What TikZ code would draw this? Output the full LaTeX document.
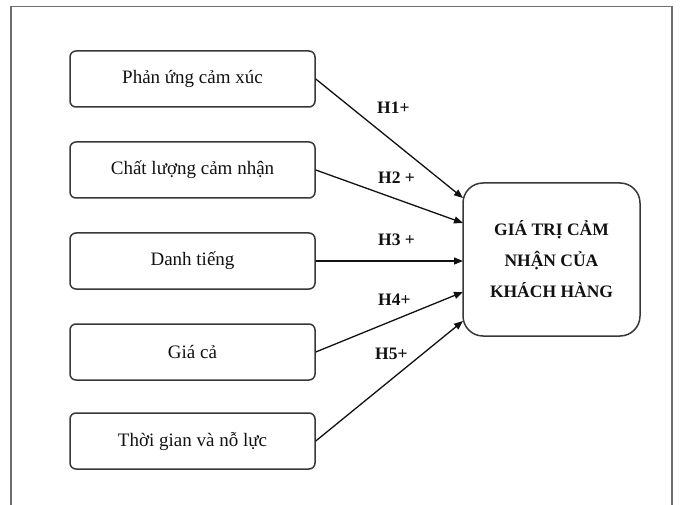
\documentclass[tikz,border=0pt]{standalone}
\usepackage{fontspec}
\setmainfont{Liberation Serif}
\usetikzlibrary{arrows.meta}
\definecolor{boxline}{HTML}{383838}
\definecolor{frameline}{HTML}{6E6E6E}
\definecolor{ink}{HTML}{111111}
\begin{document}
\begin{tikzpicture}[x=1pt,y=-1pt,
  leftbox/.style={draw=boxline,line width=1.5pt,rounded corners=6pt,minimum width=245pt,minimum height=56pt,inner sep=0pt,text=ink,font=\fontsize{19}{22}\selectfont},
  rightbox/.style={draw=boxline,line width=1.5pt,rounded corners=20pt,minimum width=177pt,minimum height=153pt,inner sep=0pt,text=ink,align=center,font=\fontsize{17.5}{31}\selectfont\bfseries},
  hlabel/.style={anchor=base west,inner sep=0pt,text=ink,font=\fontsize{17.5}{20}\selectfont\bfseries},
  conn/.style={draw=ink,line width=1.3pt,-{Triangle[length=9pt,width=7pt]}}]
\useasboundingbox (0,0) rectangle (680,505);
\draw[frameline,line width=1.4pt] (11,505) -- (11,6.5) -- (672,6.5) -- (672,505);
\node[leftbox] (b1) at (192.5,79) {Phản ứng cảm xúc};
\node[leftbox] (b2) at (192.5,170) {Chất lượng cảm nhận};
\node[leftbox] (b3) at (192.5,261) {Danh tiếng};
\node[leftbox] (b4) at (192.5,352) {Giá cả};
\node[leftbox] (b5) at (192.5,441) {Thời gian và nỗ lực};
\node[rightbox] (g) at (551.5,259.5) {GIÁ TRỊ CẢM\\NHẬN CỦA\\KHÁCH HÀNG};
\coordinate (e1) at (463,198);
\coordinate (e2) at (463,223);
\coordinate (e3) at (463,261);
\coordinate (e4) at (463,292);
\coordinate (e5) at (463,321);
\draw[conn] (b1.east) -- (e1);
\draw[conn] (b2.east) -- (e2);
\draw[conn] (b3.east) -- (e3);
\draw[conn] (b4.east) -- (e4);
\draw[conn] (b5.east) -- (e5);
\node[hlabel] (h1) at (377,114) {H1+};
\node[hlabel] (h2) at (378,184) {H2 +};
\node[hlabel] (h3) at (378,245) {H3 +};
\node[hlabel] (h4) at (378,305) {H4+};
\node[hlabel] (h5) at (375,359) {H5+};
\end{tikzpicture}
\end{document}
